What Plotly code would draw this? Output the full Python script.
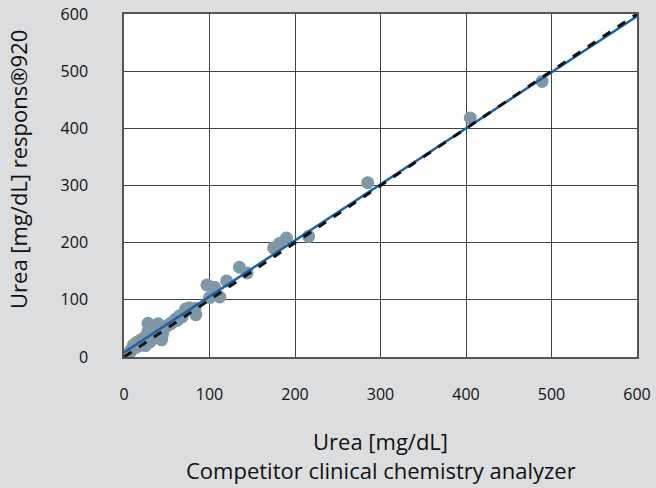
import plotly.graph_objects as go

competitor = [489, 405, 285, 216, 175, 182, 190, 135, 144, 120, 97, 106, 100, 112, 83, 76, 84, 72, 65, 60,
              54, 48, 40, 28, 44, 11, 15, 20, 24, 30, 34, 38, 22, 26, 32, 36, 42, 46, 18, 8,
              13, 30, 35, 28, 33, 38, 50, 56, 62, 68, 25, 40, 45, 7]
respons = [482, 418, 305, 211, 191, 199, 208, 157, 147, 133, 126, 122, 104, 105, 85, 86, 74, 84, 72, 66,
           58, 52, 58, 59, 30, 21, 26, 30, 34, 38, 42, 46, 24, 28, 32, 36, 44, 48, 20, 12,
           16, 26, 33, 45, 50, 40, 54, 60, 64, 70, 20, 35, 40, 8]

line_x = [0, 600]
identity_y = [0, 600]
regression_y = [8, 596]

tick_vals = [0, 100, 200, 300, 400, 500, 600]

x_title_1 = "Urea [mg/dL]"
x_title_2 = "Competitor clinical chemistry analyzer"
y_title = "Urea [mg/dL] respons®920"

fig = go.Figure()
fig.add_trace(go.Scatter(x=competitor, y=respons, mode="markers",
                         marker=dict(size=13, color="#8098a6"), showlegend=False))
fig.add_trace(go.Scatter(x=line_x, y=regression_y, mode="lines",
                         line=dict(color="#1a62a8", width=2.5), showlegend=False))
fig.add_trace(go.Scatter(x=line_x, y=identity_y, mode="lines",
                         line=dict(color="#111111", width=3, dash="dash"), showlegend=False))

font = "Open Sans, Noto Sans, sans-serif"
fig.update_layout(
    width=656, height=488,
    margin=dict(l=124, r=19, t=14, b=131, autoexpand=False),
    paper_bgcolor="#dcdddf", plot_bgcolor="#ffffff",
    font=dict(family=font, size=16, color="#111111"),
    annotations=[
        dict(text=x_title_1, xref="paper", yref="paper", x=0.5, y=(357 - 441) / 343,
             showarrow=False, xanchor="center", yanchor="middle", font=dict(size=22)),
        dict(text=x_title_2, xref="paper", yref="paper", x=0.5, y=(357 - 470) / 343,
             showarrow=False, xanchor="center", yanchor="middle", font=dict(size=22)),
        dict(text=y_title, xref="paper", yref="paper", x=(18 - 124) / 513, y=(357 - 170) / 343,
             showarrow=False, xanchor="center", yanchor="middle", textangle=-90,
             font=dict(size=22)),
    ],
)
fig.update_xaxes(range=[0, 600], tickvals=tick_vals, ticks="", showgrid=True,
                 gridcolor="#444444", gridwidth=1.3, zeroline=False,
                 showline=True, linecolor="#555555", linewidth=1.5, mirror=True,
                 ticklabelstandoff=22, automargin=False)
fig.update_yaxes(range=[0, 600], tickvals=tick_vals, ticks="", showgrid=True,
                 gridcolor="#444444", gridwidth=1.3, zeroline=False,
                 showline=True, linecolor="#555555", linewidth=1.5, mirror=True,
                 ticklabelstandoff=31, automargin=False)

fig.write_html("out.html", config={"displayModeBar": False},
               post_script="document.body.style.margin='0';document.body.style.overflow='hidden';")
